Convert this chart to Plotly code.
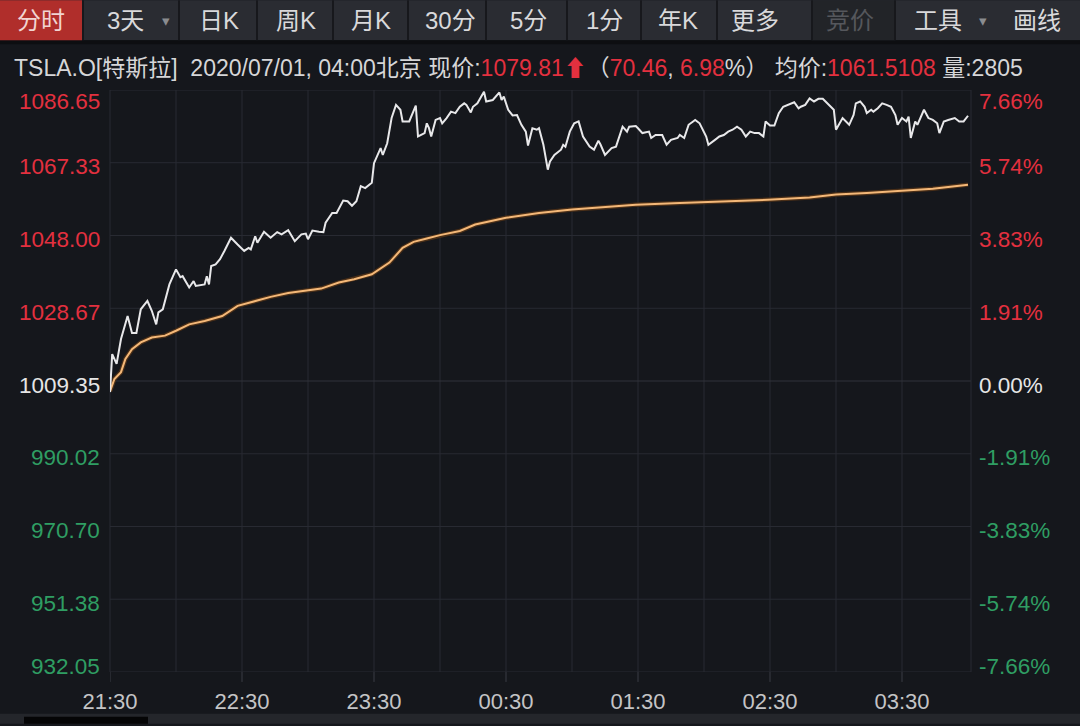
import plotly.graph_objects as go

# ---------------- data ----------------
price_min = [0, 1, 3, 5, 8, 10, 12, 14, 17, 19, 21, 22, 24, 27, 30, 32, 33, 36, 38, 39,
             43, 44, 45, 46, 48, 50, 52, 55, 58, 61, 63, 64, 66, 67, 70, 73, 76, 78, 81, 84,
             87, 89, 90, 92, 95, 97, 98, 101, 103, 106, 108, 110, 112, 114, 116, 118, 119, 120, 123, 124,
             126, 128, 130, 132, 133, 136, 138, 139, 140, 143, 144, 145, 146, 148, 150, 151, 153, 155, 157, 159,
             161, 162, 164, 165, 167, 170, 171, 174, 177, 178, 179, 181, 183, 185, 187, 189, 190, 192, 194, 195,
             197, 199, 200, 202, 205, 206, 207, 209, 211, 213, 215, 217, 218, 220, 222, 223, 225, 228, 230, 233,
             235, 236, 239, 240, 242, 245, 246, 248, 251, 253, 255, 258, 259, 261, 263, 266, 268, 271, 272, 275,
             277, 279, 281, 283, 285, 287, 289, 291, 293, 295, 297, 298, 300, 302, 304, 306, 308, 311, 313, 314,
             316, 318, 320, 322, 324, 326, 328, 329, 330, 332, 333, 336, 338, 339, 341, 343, 344, 346, 347, 349,
             351, 353, 355, 357, 358, 360, 362, 363, 364, 366, 367, 370, 372, 374, 376, 377, 379, 381, 384, 386,
             388, 390]
price_val = [1006.4, 1016.5, 1013.9, 1020.5, 1026.6, 1022.1, 1022.1, 1028.4, 1030.6, 1028.0, 1024.4, 1027.6, 1028.4, 1035.0, 1039.0, 1036.9, 1037.2, 1034.2, 1035.9, 1034.6,
             1035.0, 1037.2, 1035.0, 1039.9, 1040.3, 1041.7, 1043.9, 1047.4, 1045.6, 1043.9, 1044.7, 1044.3, 1047.8, 1046.1, 1049.0, 1047.4, 1048.9, 1048.3, 1049.4, 1046.5,
             1048.3, 1048.5, 1047.0, 1049.3, 1049.0, 1048.9, 1051.4, 1054.0, 1054.0, 1057.3, 1057.1, 1055.9, 1057.1, 1061.1, 1060.6, 1061.5, 1062.0, 1067.2, 1071.2, 1069.4,
             1072.5, 1079.2, 1082.7, 1081.4, 1078.3, 1078.3, 1081.4, 1082.5, 1074.3, 1075.2, 1077.8, 1076.5, 1074.3, 1078.7, 1079.2, 1077.8, 1079.2, 1080.9, 1080.5, 1082.2,
             1083.1, 1082.7, 1080.7, 1082.2, 1083.1, 1086.2, 1083.6, 1084.0, 1086.0, 1084.0, 1084.9, 1081.4, 1079.9, 1080.0, 1077.4, 1075.6, 1071.9, 1076.5, 1076.1, 1076.5,
             1072.1, 1065.5, 1067.7, 1069.4, 1070.8, 1072.1, 1071.6, 1075.6, 1077.8, 1078.3, 1074.3, 1072.5, 1071.6, 1070.8, 1073.2, 1072.1, 1069.4, 1071.2, 1071.6, 1076.9,
             1075.6, 1076.9, 1077.1, 1076.5, 1075.2, 1075.6, 1073.9, 1074.7, 1074.7, 1072.1, 1073.4, 1073.9, 1074.7, 1073.9, 1077.4, 1078.7, 1077.8, 1074.3, 1072.1, 1073.4,
             1074.3, 1074.7, 1075.6, 1076.1, 1076.9, 1076.1, 1074.3, 1075.6, 1075.2, 1075.2, 1074.3, 1078.3, 1077.2, 1077.2, 1080.5, 1082.2, 1082.7, 1083.4, 1081.8, 1082.2,
             1082.7, 1084.4, 1083.6, 1084.3, 1084.3, 1083.1, 1082.0, 1081.4, 1076.1, 1078.3, 1079.2, 1077.4, 1080.0, 1083.1, 1083.6, 1082.2, 1080.5, 1081.4, 1080.9, 1081.8,
             1083.1, 1082.7, 1082.2, 1080.0, 1077.4, 1079.2, 1078.3, 1079.6, 1073.9, 1078.3, 1077.4, 1081.4, 1079.2, 1078.7, 1077.8, 1075.2, 1078.3, 1078.7, 1079.2, 1078.3,
             1078.3, 1079.81]

avg_min = [0, 2, 5, 7, 10, 14, 19, 25, 30, 36, 43, 51, 58, 66, 73, 81, 89, 96, 104, 111,
           119, 127, 133, 138, 144, 150, 159, 166, 180, 195, 210, 225, 239, 259, 276, 299, 318, 330, 344, 359,
           374, 390]
avg_val = [1006.6, 1009.9, 1011.7, 1015.2, 1017.8, 1019.6, 1020.9, 1021.4, 1022.7, 1024.4, 1025.3, 1026.6, 1029.3, 1030.6, 1031.7, 1032.7, 1033.3, 1033.9, 1035.5, 1036.4,
           1037.7, 1040.8, 1044.7, 1046.3, 1047.2, 1048.1, 1049.2, 1050.9, 1052.7, 1054.0, 1054.9, 1055.5, 1056.2, 1056.6, 1056.9, 1057.5, 1058.1, 1058.9, 1059.3, 1059.9,
           1060.4, 1061.51]

y_levels = [1086.65, 1067.33, 1048.00, 1028.67, 1009.35, 990.02, 970.70, 951.38, 932.05]
y_labels = ["1086.65", "1067.33", "1048.00", "1028.67", "1009.35", "990.02", "970.70", "951.38", "932.05"]
pct_labels = ["7.66%", "5.74%", "3.83%", "1.91%", "0.00%", "-1.91%", "-3.83%", "-5.74%", "-7.66%"]
x_tick_min = [0, 60, 120, 180, 240, 300, 360]
x_tick_text = ["21:30", "22:30", "23:30", "00:30", "01:30", "02:30", "03:30"]
grid_min = [30, 90, 150, 210, 270, 330]

tabs = ["分时", "3天", "日K", "周K", "月K", "30分", "5分", "1分", "年K", "更多", "竞价", "工具", "画线"]

# ---------------- style / layout ----------------
W, H = 1080, 726
L, R, T, B = 110, 109, 90, 52
PW, PH = W - L - R, H - T - B
BG = "#15171c"
GRID = "#282a32"
RED = "#e3303f"
GREEN = "#2f9e63"
WHITE = "#e6e6e6"
FONT = "Liberation Sans, Noto Sans CJK SC, sans-serif"


def px(x):
    return (x - L) / PW


def py(y):
    return (H - B - y) / PH


fig = go.Figure()
fig.add_trace(go.Scatter(x=avg_min, y=avg_val, mode="lines",
                         line=dict(color="#4a2f18", width=4.5), hoverinfo="skip", showlegend=False))
fig.add_trace(go.Scatter(x=avg_min, y=avg_val, mode="lines",
                         line=dict(color="#f4b878", width=2), showlegend=False))
fig.add_trace(go.Scatter(x=price_min, y=price_val, mode="lines",
                         line=dict(color="#e8e8ea", width=2), showlegend=False))

shapes = []
for m in grid_min + x_tick_min[1:]:
    shapes.append(dict(type="line", xref="x", yref="paper", x0=m, x1=m, y0=0, y1=1,
                       line=dict(color=GRID, width=1), layer="below"))
for v in y_levels:
    shapes.append(dict(type="line", xref="paper", yref="y", x0=0, x1=1, y0=v, y1=v,
                       line=dict(color="#30323a" if v == 1009.35 else GRID, width=1), layer="below"))
for xx in (0, 1):
    shapes.append(dict(type="line", xref="paper", yref="paper", x0=xx, x1=xx, y0=0, y1=1,
                       line=dict(color=GRID, width=1), layer="below"))
for m in x_tick_min:
    shapes.append(dict(type="line", xref="x", yref="paper", x0=m, x1=m, y0=py(674), y1=py(684),
                       line=dict(color="#3a3c44", width=1)))

# toolbar
shapes.append(dict(type="rect", xref="paper", yref="paper", x0=px(0), x1=px(W), y0=py(0), y1=py(40),
                   fillcolor="#2a2c32", line=dict(width=0), layer="below"))
shapes.append(dict(type="rect", xref="paper", yref="paper", x0=px(0), x1=px(W), y0=py(40), y1=py(44),
                   fillcolor="#0d0e11", line=dict(width=0), layer="below"))
shapes.append(dict(type="rect", xref="paper", yref="paper", x0=px(0), x1=px(82), y0=py(0), y1=py(40),
                   fillcolor="#b02e2b", line=dict(width=0), layer="below"))
shapes.append(dict(type="rect", xref="paper", yref="paper", x0=px(812), x1=px(895), y0=py(0), y1=py(40),
                   fillcolor="#222428", line=dict(width=0), layer="below"))
for sx in [83, 179, 257, 333, 408, 486, 567, 641, 717, 812, 895]:
    shapes.append(dict(type="line", xref="paper", yref="paper", x0=px(sx), x1=px(sx), y0=py(0), y1=py(40),
                       line=dict(color="#17181c", width=2)))
# bottom strip
shapes.append(dict(type="rect", xref="paper", yref="paper", x0=px(0), x1=px(W), y0=py(716), y1=py(H),
                   fillcolor="#24262b", line=dict(width=0), layer="below"))
shapes.append(dict(type="rect", xref="paper", yref="paper", x0=px(24), x1=px(148), y0=py(719), y1=py(H),
                   fillcolor="#050506", line=dict(width=0), layer="below"))

ann = []
tab_cx = [41, 125, 219, 296, 371, 450, 528, 604, 678, 755, 850, 938, 1037]
for t, cx in zip(tabs, tab_cx):
    col = "#f1d4d2" if t == "分时" else ("#55575c" if t == "竞价" else "#d9d9db")
    ann.append(dict(xref="paper", yref="paper", x=px(cx), y=py(20), text=t, showarrow=False,
                    xanchor="center", yanchor="middle", font=dict(family=FONT, size=24, color=col)))
for cx in (166, 983):
    ann.append(dict(xref="paper", yref="paper", x=px(cx), y=py(20), text="▾", showarrow=False,
                    xanchor="center", yanchor="middle", font=dict(family=FONT, size=15, color="#8a8c90")))

hdr = ("TSLA.O[特斯拉]  2020/07/01, 04:00北京 现价:"
       f"<span style='color:{RED}'>1079.81⬆</span>（<span style='color:{RED}'>70.46</span>, "
       f"<span style='color:{RED}'>6.98</span>%） 均价:<span style='color:{RED}'>1061.5108</span> 量:2805")
ann.append(dict(xref="paper", yref="paper", x=px(12), y=py(68), text=hdr, showarrow=False,
                xanchor="left", yanchor="middle", font=dict(family=FONT, size=23, color="#d6d6d8")))

for i, (v, lab, pl) in enumerate(zip(y_levels, y_labels, pct_labels)):
    col = RED if v > 1009.35 else (WHITE if v == 1009.35 else GREEN)
    shift = -11 if i == 0 else (6 if i == len(y_levels) - 1 else -4)
    ann.append(dict(xref="paper", yref="y", x=0, y=v, text=lab, showarrow=False, xanchor="right",
                    yanchor="middle", xshift=-8, yshift=shift, font=dict(family=FONT, size=22.5, color=col)))
    ann.append(dict(xref="paper", yref="y", x=1, y=v, text=pl, showarrow=False, xanchor="left",
                    yanchor="middle", xshift=6, yshift=shift, font=dict(family=FONT, size=22.5, color=col)))

fig.update_layout(
    width=W, height=H, autosize=False,
    margin=dict(l=L, r=R, t=T, b=B, pad=0),
    paper_bgcolor=BG, plot_bgcolor=BG,
    shapes=shapes, annotations=ann, showlegend=False,
    xaxis=dict(range=[0, PW / 2.2], tickmode="array", tickvals=x_tick_min, ticktext=x_tick_text,
               showgrid=False, zeroline=False, showline=False, ticks="",
               tickfont=dict(family=FONT, size=22, color="#c4c4c6"), ticklabelstandoff=14, fixedrange=True),
    yaxis=dict(range=[932.05, 1086.65], showgrid=False, zeroline=False, showticklabels=False,
               showline=False, fixedrange=True),
    hovermode=False,
)

fig.write_html("out.html", config={"displayModeBar": False},
               post_script="document.body.style.margin='0';document.body.style.overflow='hidden';")
